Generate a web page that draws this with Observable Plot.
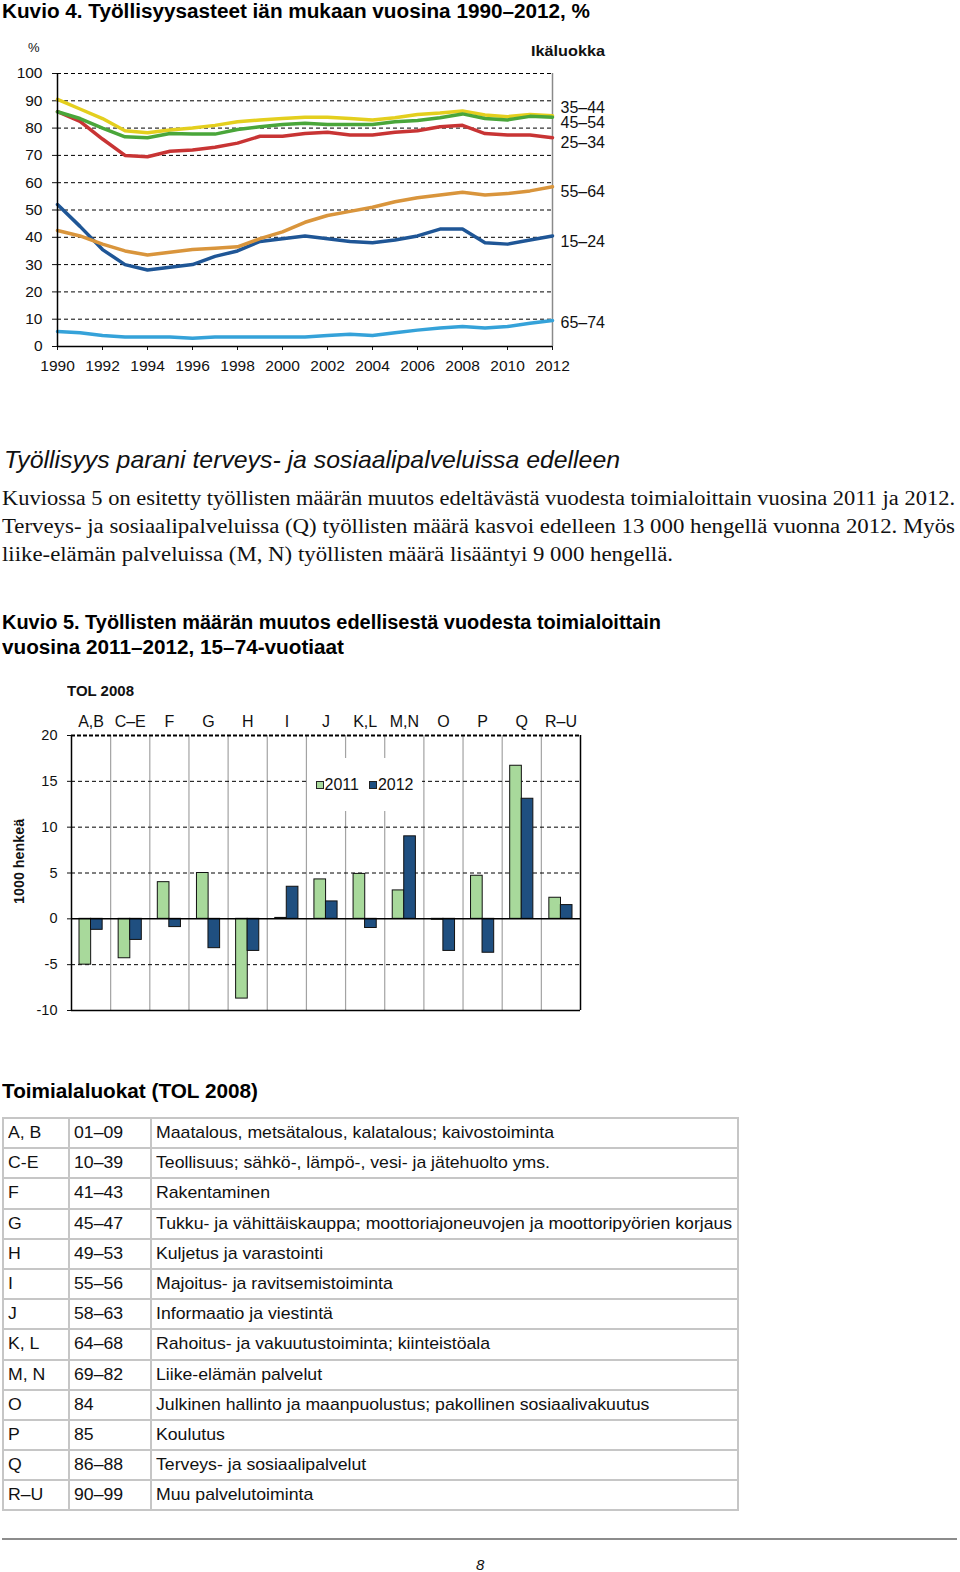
<!DOCTYPE html>
<html>
<head>
<meta charset="utf-8">
<script src="https://cdn.jsdelivr.net/npm/d3@7"></script>
<script src="https://cdn.jsdelivr.net/npm/@observablehq/plot@0.6"></script>
<style>
  html, body { margin: 0; padding: 0; background: #fff; }
  #page { position: relative; width: 960px; height: 1572px; overflow: hidden; background: #fff; color: #111; font-family: "Liberation Sans", Arial, sans-serif; }
  .t { position: absolute; white-space: nowrap; line-height: 1.2; transform-origin: 0 0; }
  .chart { position: absolute; }
  #legend { position: absolute; background: #fff; font-family: "Liberation Sans", Arial, sans-serif; font-size: 16px; color: #111; display: flex; align-items: center; justify-content: center; }
  #legend .sw { display: inline-block; width: 6px; height: 6px; border: 1px solid #222; margin-right: 1px; }
  #legend .it { display: inline-flex; align-items: center; margin: 0 5px; }
  #tbl { position: absolute; border-collapse: collapse; table-layout: fixed; font-family: "Liberation Sans", Arial, sans-serif; font-size: 17px; color: #111; }
  #tbl td { border: 2px solid #c6c6c6; padding: 0 0 0 4px; white-space: nowrap; overflow: visible; vertical-align: middle; }
  #tbl td span { display: inline-block; transform-origin: 0 50%; }
  #hr { position: absolute; background: #8c8c8c; }
</style>
</head>
<body>
<div id="page"></div>
<script>
// ---------------- DATA ----------------
const years = [1990,1991,1992,1993,1994,1995,1996,1997,1998,1999,2000,2001,2002,2003,2004,2005,2006,2007,2008,2009,2010,2011,2012];
const yearTicks = [1990,1992,1994,1996,1998,2000,2002,2004,2006,2008,2010,2012];
const rateTicks = [0,10,20,30,40,50,60,70,80,90,100];
const ageGroups = ["35–44","45–54","25–34","55–64","15–24","65–74"];
const rate35_44 = [90.5,87,83.5,79,78.3,79.3,80,81,82.3,83,83.5,84,84,83.5,83,83.8,85,85.5,86.3,84.8,84.2,85,84.5];
const rate45_54 = [86,83.5,80,76.8,76.5,78,77.8,77.8,79.5,80.5,81.3,81.8,81.3,81.3,81.3,82.3,82.8,83.8,85.2,83.5,83,84.3,84];
const rate25_34 = [86,82.5,76,70,69.5,71.5,72,73,74.5,77,77,78,78.5,77.5,77.5,78.5,79,80.5,81,78,77.5,77.5,76.5];
const rate55_64 = [42.5,40.5,37.5,35,33.5,34.5,35.5,36,36.5,39.5,42,45.5,48,49.5,51,53,54.5,55.5,56.5,55.5,56,57,58.5];
const rate15_24 = [52,44,35.5,30,28,29,30,33,35,38.5,39.5,40.5,39.5,38.5,38,39,40.5,43,43,38,37.5,39,40.5];
const rate65_74 = [5.5,5,4,3.5,3.5,3.5,3,3.5,3.5,3.5,3.5,3.5,4,4.5,4,5,6,6.8,7.3,6.8,7.3,8.5,9.5];

const categories = ["A,B","C–E","F","G","H","I","J","K,L","M,N","O","P","Q","R–U"];
const change2011 = [-5.0,-4.3,4.0,5.0,-8.7,0.1,4.3,4.9,3.1,-0.1,4.7,16.7,2.3];
const change2012 = [-1.2,-2.3,-0.9,-3.2,-3.5,3.5,1.9,-1.0,9.0,-3.5,-3.7,13.1,1.5];
const changeTicks = [-10,-5,0,5,10,15,20];
const seriesYears = ["2011","2012"];

const tolCodes = ["A, B","C-E","F","G","H","I","J","K, L","M, N","O","P","Q","R–U"];
const tolRanges = ["01–09","10–39","41–43","45–47","49–53","55–56","58–63","64–68","69–82","84","85","86–88","90–99"];
const tolNames = [
  "Maatalous, metsätalous, kalatalous; kaivostoiminta",
  "Teollisuus; sähkö-, lämpö-, vesi- ja jätehuolto yms.",
  "Rakentaminen",
  "Tukku- ja vähittäiskauppa; moottoriajoneuvojen ja moottoripyörien korjaus",
  "Kuljetus ja varastointi",
  "Majoitus- ja ravitsemistoiminta",
  "Informaatio ja viestintä",
  "Rahoitus- ja vakuutustoiminta; kiinteistöala",
  "Liike-elämän palvelut",
  "Julkinen hallinto ja maanpuolustus; pakollinen sosiaalivakuutus",
  "Koulutus",
  "Terveys- ja sosiaalipalvelut",
  "Muu palvelutoiminta"
];

// ---------------- HELPERS ----------------
const SANS = '"Liberation Sans", Arial, sans-serif';
const SERIF = '"Liberation Serif", "Times New Roman", serif';
const page = document.getElementById("page");

function addText(str, o) {
  const d = document.createElement("div");
  d.className = "t";
  d.textContent = str;
  Object.assign(d.style, {
    left: o.x + "px",
    top: (o.y - o.size * 0.5) + "px",
    fontSize: o.size + "px",
    fontWeight: o.bold ? "bold" : "normal",
    fontStyle: o.italic ? "italic" : "normal",
    fontFamily: o.family || SANS,
    color: o.color || "#111"
  });
  page.appendChild(d);
  if (o.w) {
    const w = d.getBoundingClientRect().width;
    d.style.transform = `scaleX(${o.w / w})`;
  }
  return d;
}

// ---------------- TEXT ----------------
addText("Kuvio 4. Työllisyysasteet iän mukaan vuosina 1990–2012, %", {x: 2, y: 9, size: 20, bold: true, w: 588, color: "#000"});
addText("%", {x: 28, y: 46, size: 13});
addText("Ikäluokka", {x: 531, y: 49, size: 15, bold: true, w: 74});

addText("Työllisyys parani terveys- ja sosiaalipalveluissa edelleen", {x: 4, y: 458, size: 24, italic: true, w: 616});
addText("Kuviossa 5 on esitetty työllisten määrän muutos edeltävästä vuodesta toimialoittain vuosina 2011 ja 2012.", {x: 2, y: 496, size: 20, family: SERIF, w: 953});
addText("Terveys- ja sosiaalipalveluissa (Q) työllisten määrä kasvoi edelleen 13 000 hengellä vuonna 2012. Myös", {x: 2, y: 524, size: 20, family: SERIF, w: 953});
addText("liike-elämän palveluissa (M, N) työllisten määrä lisääntyi 9 000 hengellä.", {x: 2, y: 552, size: 20, family: SERIF, w: 671});

addText("Kuvio 5. Työllisten määrän muutos edellisestä vuodesta toimialoittain", {x: 2, y: 620, size: 20, bold: true, w: 659, color: "#000"});
addText("vuosina 2011–2012, 15–74-vuotiaat", {x: 2, y: 645, size: 20, bold: true, w: 342, color: "#000"});
addText("TOL 2008", {x: 67, y: 690, size: 14, bold: true, w: 67});

addText("Toimialaluokat (TOL 2008)", {x: 2, y: 1089, size: 20, bold: true, w: 256, color: "#000"});
addText("8", {x: 476, y: 1563, size: 15, italic: true});

// rotated y label
{
  const d = document.createElement("div");
  d.className = "t";
  d.textContent = "1000 henkeä";
  Object.assign(d.style, {left: "20px", top: "861px", fontSize: "14px", fontWeight: "bold", transformOrigin: "50% 50%"});
  page.appendChild(d);
  const r = d.getBoundingClientRect();
  d.style.left = (20 - r.width / 2) + "px";
  d.style.top = (861 - r.height / 2) + "px";
  d.style.transform = `rotate(-90deg) scaleX(${85 / r.width})`;
}

// ---------------- LINE CHART ----------------
const rateSeries = [rate35_44, rate45_54, rate25_34, rate55_64, rate15_24, rate65_74];
const ageColors = ["#e4cf1e", "#4aa63a", "#c83434", "#d9953c", "#1f5696", "#35a2d9"];
const lineRows = [];
ageGroups.forEach((g, k) => years.forEach((yr, i) => lineRows.push({group: g, year: yr, rate: rateSeries[k][i]})));
// label anchor (data units) for the end-of-line labels
const labelAnchor = [87.5, 82, 74.5, 56.8, 38.4, 8.6];
const endLabels = ageGroups.map((g, k) => ({group: g, year: years[years.length - 1], at: labelAnchor[k]}));
const drawOrder = ["65–74","15–24","55–64","25–34","35–44","45–54"];

const lineChart = Plot.plot({
  width: 620, height: 350,
  marginLeft: 57, marginRight: 68, marginTop: 43, marginBottom: 34,
  style: {fontFamily: SANS, fontSize: "15.5px", color: "#111", background: "transparent", overflow: "visible"},
  x: {domain: [years[0], years[years.length - 1]], ticks: yearTicks, tickFormat: d => String(d), tickSize: 4, tickPadding: 9, label: null},
  y: {domain: [0, 100], ticks: rateTicks, tickFormat: d => String(d), tickSize: 5, tickPadding: 10, label: null},
  color: {domain: ageGroups, range: ageColors},
  marks: [
    Plot.ruleY(rateTicks.filter(v => v > 0), {stroke: "#000", strokeDasharray: "4,3", strokeWidth: 1}),
    Plot.ruleX([years[years.length - 1]], {stroke: "#8a8a8a", strokeWidth: 1.5}),
    ...drawOrder.map(g => Plot.line(lineRows.filter(d => d.group === g), {x: "year", y: "rate", stroke: "group", strokeWidth: 3.5, strokeLinejoin: "round"})),
    Plot.ruleY([0], {stroke: "#000", strokeWidth: 1.5}),
    Plot.ruleX([years[0]], {stroke: "#000", strokeWidth: 1.5}),
    Plot.text(endLabels, {x: "year", y: "at", text: "group", dx: 8, textAnchor: "start", fontSize: 16, fill: "#111"})
  ]
});
lineChart.querySelectorAll('[aria-label$="tick label"] text').forEach(t => t.setAttribute("font-size", "15.5"));
const lc = document.createElement("div");
lc.className = "chart";
lc.style.left = "0px"; lc.style.top = "30px";
lc.appendChild(lineChart);
page.appendChild(lc);

// ---------------- BAR CHART ----------------
const barRows = categories.map((c, i) => ({i, cat: c, v2011: change2011[i], v2012: change2012[i]}));
const boundaries = categories.slice(1).map((c, i) => i + 0.5);
const barColors = ["#a8d99b", "#1f4f80"];

const barChart = Plot.plot({
  width: 600, height: 350,
  marginLeft: 71, marginRight: 20, marginTop: 65, marginBottom: 10,
  style: {fontFamily: SANS, fontSize: "14.5px", color: "#111", background: "transparent", overflow: "visible"},
  x: {domain: [-0.5, categories.length - 0.5], ticks: categories.map((c, i) => i), tickFormat: i => categories[i], axis: "top", tickSize: 0, tickPadding: 9, label: null},
  y: {domain: [changeTicks[0], changeTicks[changeTicks.length - 1]], ticks: changeTicks, tickFormat: d => String(d), tickSize: 4, tickPadding: 10, label: null},
  marks: [
    Plot.ruleX(boundaries, {stroke: "#a3a3a3", strokeWidth: 1.2}),
    Plot.ruleY(changeTicks.filter(v => v !== 0 && v !== changeTicks[0] && v !== changeTicks[changeTicks.length - 1]), {stroke: "#000", strokeDasharray: "4,3", strokeWidth: 1}),
    Plot.ruleY([changeTicks[changeTicks.length - 1]], {stroke: "#000", strokeDasharray: "4,2", strokeWidth: 2}),
    Plot.rect(barRows, {x1: d => d.i - 0.5, x2: d => d.i + 0.5, y1: () => 0, y2: "v2011", fill: barColors[0], stroke: "#111", strokeWidth: 1, insetLeft: 8, insetRight: 19.5}),
    Plot.rect(barRows, {x1: d => d.i - 0.5, x2: d => d.i + 0.5, y1: () => 0, y2: "v2012", fill: barColors[1], stroke: "#111", strokeWidth: 1, insetLeft: 19.5, insetRight: 8}),
    Plot.ruleY([0], {stroke: "#000", strokeWidth: 1.5}),
    Plot.ruleY([changeTicks[0]], {stroke: "#000", strokeWidth: 1.5}),
    Plot.ruleX([-0.5], {stroke: "#000", strokeWidth: 1.5}),
    Plot.ruleX([categories.length - 0.5], {stroke: "#000", strokeWidth: 1.5})
  ]
});
barChart.querySelectorAll('[aria-label="x-axis tick label"] text').forEach(t => t.setAttribute("font-size", "16"));
barChart.querySelectorAll('[aria-label="y-axis tick label"] text').forEach(t => t.setAttribute("font-size", "14.5"));
const bc = document.createElement("div");
bc.className = "chart";
bc.style.left = "0px"; bc.style.top = "670px";
bc.appendChild(barChart);
page.appendChild(bc);

// legend (HTML overlay inside plot area)
{
  const lg = document.createElement("div");
  lg.id = "legend";
  Object.assign(lg.style, {left: "307px", top: "758px", width: "115px", height: "53px"});
  seriesYears.forEach((y, k) => {
    const it = document.createElement("span");
    it.className = "it";
    const sw = document.createElement("span");
    sw.className = "sw";
    sw.style.background = barColors[k];
    it.appendChild(sw);
    it.appendChild(document.createTextNode(y));
    lg.appendChild(it);
  });
  page.appendChild(lg);
}

// ---------------- TABLE ----------------
{
  const tbl = document.createElement("table");
  tbl.id = "tbl";
  Object.assign(tbl.style, {left: "2px", top: "1117px", width: "735px"});
  const cg = document.createElement("colgroup");
  [66, 82, 587].forEach(w => { const c = document.createElement("col"); c.style.width = w + "px"; cg.appendChild(c); });
  tbl.appendChild(cg);
  const tb = document.createElement("tbody");
  tolCodes.forEach((code, i) => {
    const tr = document.createElement("tr");
    tr.style.height = "30.2px";
    [code, tolRanges[i], tolNames[i]].forEach(v => {
      const td = document.createElement("td");
      const sp = document.createElement("span");
      sp.textContent = v;
      td.appendChild(sp);
      tr.appendChild(td);
    });
    tb.appendChild(tr);
  });
  tbl.appendChild(tb);
  page.appendChild(tbl);
  const ref = tb.rows[0].cells[2].firstChild;
  const k = 398 / ref.getBoundingClientRect().width;
  tbl.querySelectorAll("td span").forEach(s => s.style.transform = `scaleX(${k})`);
}

// bottom rule
{
  const hr = document.createElement("div");
  hr.id = "hr";
  Object.assign(hr.style, {left: "2px", top: "1538px", width: "955px", height: "2px"});
  page.appendChild(hr);
}
</script>
</body>
</html>
